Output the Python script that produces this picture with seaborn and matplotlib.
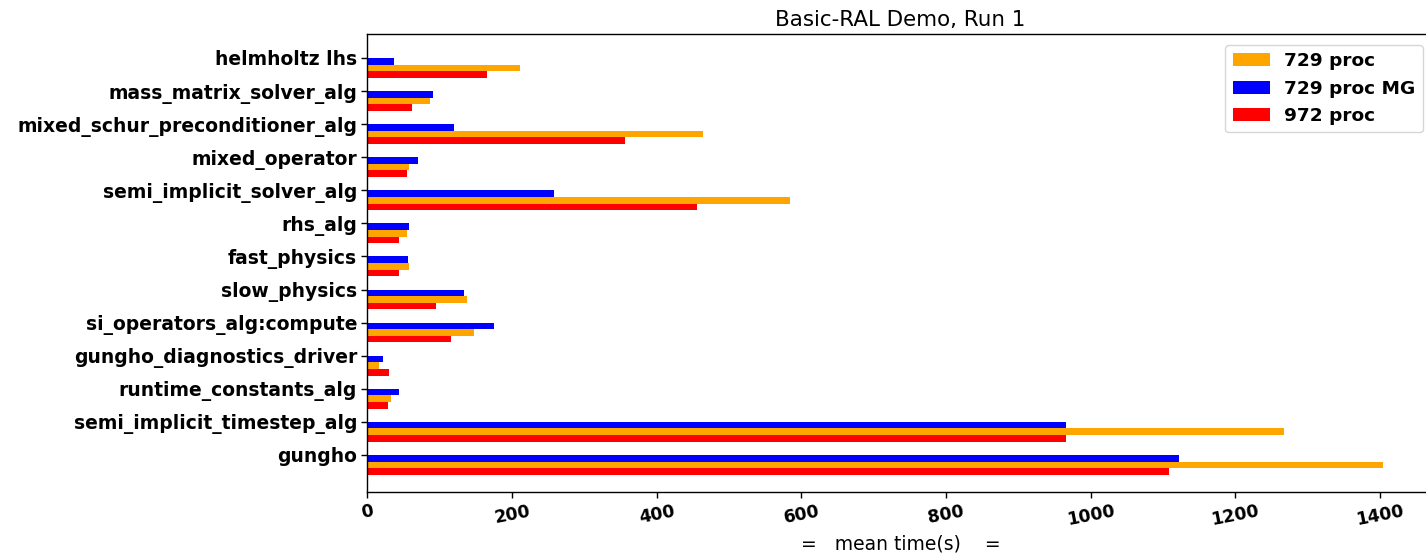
import numpy as np
import pandas as pd
import matplotlib
matplotlib.use("Agg")
import matplotlib.pyplot as plt
import seaborn as sns

categories = [
    "helmholtz lhs",
    "mass_matrix_solver_alg",
    "mixed_schur_preconditioner_alg",
    "mixed_operator",
    "semi_implicit_solver_alg",
    "rhs_alg",
    "fast_physics",
    "slow_physics",
    "si_operators_alg:compute",
    "gungho_diagnostics_driver",
    "runtime_constants_alg",
    "semi_implicit_timestep_alg",
    "gungho",
]

proc_729 = [211, 87, 464, 58, 584, 55, 58, 137, 147, 16, 32, 1267, 1404]
proc_729_mg = [36, 91, 120, 70, 258, 57, 56, 134, 175, 22, 44, 966, 1122]
proc_972 = [165, 61, 356, 55, 456, 44, 44, 95, 115, 30, 28, 966, 1108]

series_names = ["729 proc", "729 proc MG", "972 proc"]
series_colors = {"729 proc": "orange", "729 proc MG": "blue", "972 proc": "red"}
bar_order = ["729 proc MG", "729 proc", "972 proc"]

df = pd.DataFrame({
    "routine": categories * 3,
    "time": proc_729 + proc_729_mg + proc_972,
    "run": ["729 proc"] * len(categories)
           + ["729 proc MG"] * len(categories)
           + ["972 proc"] * len(categories),
})

sns.set_theme(style="ticks", rc={
    "text.color": "black",
    "axes.labelcolor": "black",
    "axes.edgecolor": "black",
    "xtick.color": "black",
    "ytick.color": "black",
})
plt.rcParams["font.family"] = ["DejaVu Sans"]

fig = plt.figure(figsize=(14.26, 5.54), dpi=100)
ax = fig.add_axes([0.2577, 0.1119, 0.7475, 0.8267])

sns.barplot(
    data=df, y="routine", x="time", hue="run",
    order=categories, hue_order=bar_order,
    palette=series_colors, orient="h", width=0.6,
    saturation=1, errorbar=None, linewidth=0, ax=ax,
)

n = len(categories)
ax.set_yticks(np.arange(n) - 0.3, labels=categories)
ax.set_ylim(n - 1 + 0.82, -1.025)
ax.set_xlim(0, 1474)
ax.set_xticks([0, 200, 400, 600, 800, 1000, 1200, 1400])

for lab in ax.get_yticklabels():
    lab.set_fontweight("bold")
    lab.set_fontsize(13.5)
for lab in ax.get_xticklabels():
    lab.set_fontweight("bold")
    lab.set_fontsize(12.5)
    lab.set_rotation(11)

ax.tick_params(axis="both", colors="black", length=4, width=1)
for sp in ax.spines.values():
    sp.set_color("black")
    sp.set_linewidth(1)
ax.grid(False)

ax.set_ylabel("")
ax.set_xlabel("=   mean time(s)    =", fontsize=13.5, color="black")
ax.set_title("Basic-RAL Demo, Run 1", fontsize=15.4, color="black")

handles, labels = ax.get_legend_handles_labels()
lookup = dict(zip(labels, handles))
leg = ax.legend(
    [lookup[s] for s in series_names], series_names,
    loc="upper right", bbox_to_anchor=(1423 / 1426, 1 - 45 / 554),
    bbox_transform=fig.transFigure, borderaxespad=0,
    prop={"weight": "bold", "size": 13.3}, frameon=True,
)
for t in leg.get_texts():
    t.set_color("black")

fig.savefig("out.png", dpi=100)
